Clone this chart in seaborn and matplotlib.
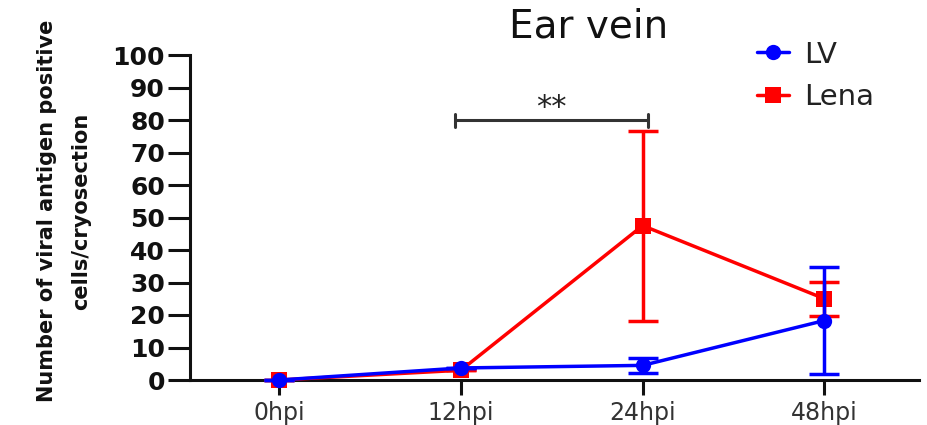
import matplotlib
matplotlib.use("Agg")
import matplotlib.pyplot as plt
import seaborn as sns
import pandas as pd

# ---- data ----
timepoints = ["0hpi", "12hpi", "24hpi", "48hpi"]
lv_mean = [0.0, 3.7, 4.5, 18.3]
lv_sd = [0.0, 0.0, 2.3, 16.5]
lena_mean = [0.0, 3.0, 47.5, 25.0]
lena_sd = [0.0, 0.0, 29.2, 5.2]
groups = ["LV", "Lena"]
colors = {"LV": "#0000ff", "Lena": "#ff0000"}
markers = {"LV": "o", "Lena": "s"}
title = "Ear vein"
ylabel = "Number of viral antigen positive\ncells/cryosection"
sig_pair = ("12hpi", "24hpi")
sig_y = 80
sig_text = "**"

df = pd.DataFrame({
    "time": timepoints * 2,
    "value": lv_mean + lena_mean,
    "group": ["LV"] * 4 + ["Lena"] * 4,
})

sns.set_theme(style="ticks")
plt.rcParams["font.family"] = ["DejaVu Sans"]

fig = plt.figure(figsize=(9.28, 4.25), dpi=100)
ax = fig.add_axes([190 / 928, 1 - 380 / 425, (919 - 190) / 928, (380 - 55) / 425])

sns.lineplot(data=df, x="time", y="value", hue="group", style="group",
             hue_order=groups, style_order=groups, palette=colors,
             markers=markers, dashes=False, markersize=11, linewidth=2.5,
             markeredgewidth=0, sort=False, ax=ax, legend=True)

pos = {t: i for i, t in enumerate(timepoints)}
xs = [pos[t] for t in timepoints]
ax.errorbar(xs, lena_mean, yerr=lena_sd, fmt="none", ecolor=colors["Lena"],
            elinewidth=2.5, capsize=11, capthick=2.5, zorder=3, clip_on=False)
ax.errorbar(xs, lv_mean, yerr=lv_sd, fmt="none", ecolor=colors["LV"],
            elinewidth=2.5, capsize=11, capthick=2.5, zorder=5, clip_on=False)

for ln in ax.lines:
    ln.set_clip_on(False)
    c = matplotlib.colors.to_hex(ln.get_color())
    if c == "#0000ff":
        ln.set_zorder(6)
    else:
        ln.set_zorder(4)

ax.set_xlim(-0.49, 3.52)
ax.set_ylim(0, 100)
ax.set_yticks(range(0, 101, 10))
ax.set_xlabel("")
ax.set_ylabel(ylabel, fontsize=15, fontweight="bold", linespacing=1.85, color="#111111")
ax.yaxis.set_label_coords(-0.136, 0.52)

for s in ["top", "right"]:
    ax.spines[s].set_visible(False)
for s in ["left", "bottom"]:
    ax.spines[s].set_linewidth(2.2)
    ax.spines[s].set_color("#111111")

ax.tick_params(axis="y", length=16, width=2.2, pad=2, labelsize=18, colors="#111111")
ax.tick_params(axis="x", length=11, width=2.2, pad=4, labelsize=17, colors="#111111")
for lab in ax.get_yticklabels():
    lab.set_fontweight("bold")
for lab in ax.get_xticklabels():
    lab.set_color("#333333")

# significance bracket
x1, x2 = pos[sig_pair[0]], pos[sig_pair[1]]
ax.plot([x1 - 0.03, x2 + 0.03], [sig_y, sig_y], color="#333333", lw=2.2, clip_on=False)
ax.plot([x1 - 0.03, x1 - 0.03], [sig_y - 2, sig_y + 2], color="#333333", lw=2.2, clip_on=False)
ax.plot([x2 + 0.03, x2 + 0.03], [sig_y - 2, sig_y + 2], color="#333333", lw=2.2, clip_on=False)
ax.text((x1 + x2) / 2, sig_y + 4, sig_text, ha="center", va="center",
        fontsize=22, fontweight="normal", color="#222222")

fig.text(589 / 928, 1 - 27 / 425, title, ha="center", va="center",
         fontsize=28, color="#111111")

handles, labels = ax.get_legend_handles_labels()
leg = ax.legend(handles, labels, loc="center left", frameon=False,
                bbox_to_anchor=(731 / 928, 1 - 76 / 425),
                bbox_transform=fig.transFigure, fontsize=21,
                handlelength=1.1, handletextpad=0.5, labelspacing=0.5)
for t in leg.get_texts():
    t.set_color("#222222")

fig.savefig("out.png", dpi=100)
